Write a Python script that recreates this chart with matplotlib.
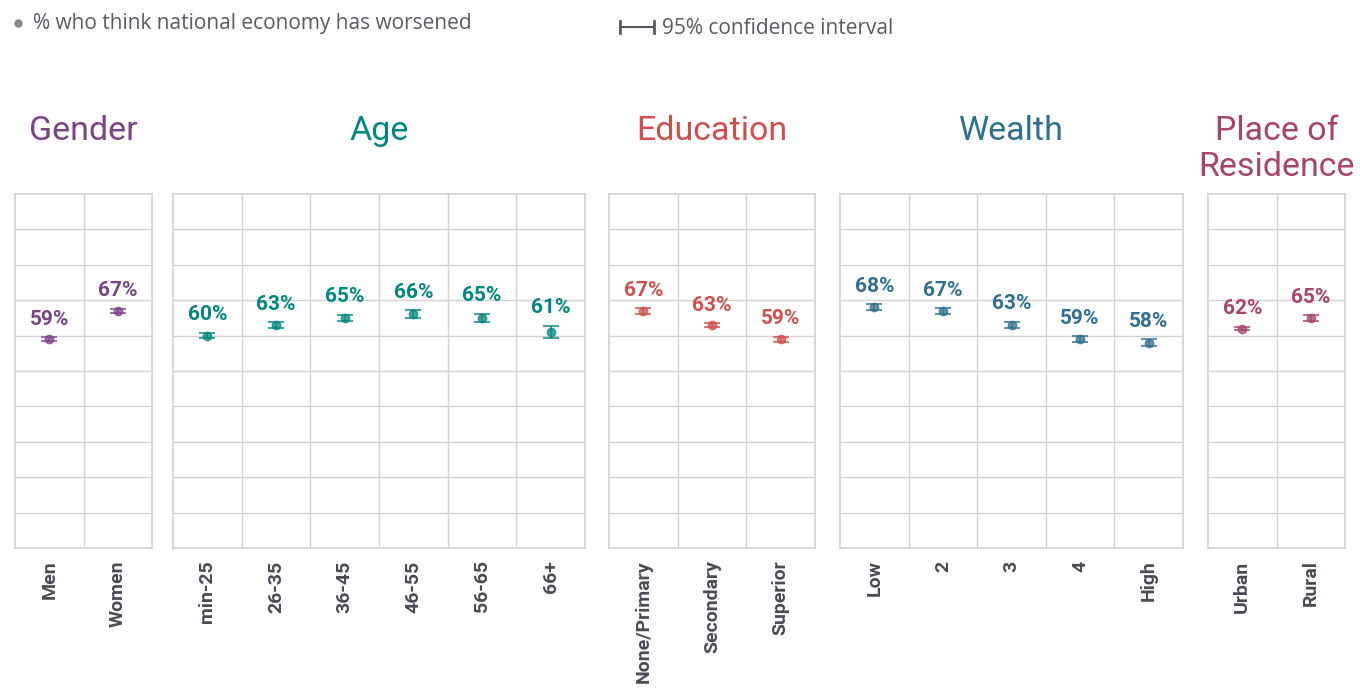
import matplotlib
matplotlib.use("Agg")
import matplotlib.pyplot as plt
from matplotlib.lines import Line2D

# % who think the national economy has worsened, with 95% CI half-widths
gender_labels = ["Men", "Women"]
gender_vals = [59, 67]
gender_ci = [0.6, 0.6]

age_labels = ["min-25", "26-35", "36-45", "46-55", "56-65", "66+"]
age_vals = [60, 63, 65, 66, 65, 61]
age_ci = [0.8, 0.8, 0.9, 1.1, 1.2, 1.8]

edu_labels = ["None/Primary", "Secondary", "Superior"]
edu_vals = [67, 63, 59]
edu_ci = [0.8, 0.5, 0.7]

wealth_labels = ["Low", "2", "3", "4", "High"]
wealth_vals = [68, 67, 63, 59, 58]
wealth_ci = [0.8, 0.8, 0.9, 0.9, 1.0]

res_labels = ["Urban", "Rural"]
res_vals = [62, 65]
res_ci = [0.5, 0.8]

groups = [
    ("Gender", gender_labels, gender_vals, gender_ci, "#7a4488"),
    ("Age", age_labels, age_vals, age_ci, "#00877f"),
    ("Education", edu_labels, edu_vals, edu_ci, "#cf4f4b"),
    ("Wealth", wealth_labels, wealth_vals, wealth_ci, "#2f6f8f"),
    ("Place of\nResidence", res_labels, res_vals, res_ci, "#a8426f"),
]

W, H = 1360, 693
panel_x = [(15, 152), (173, 585), (609, 815), (840, 1183), (1208, 1345)]
top_px, bot_px = 194, 548
grid_col = "#d2d2d2"
tick_col = "#4a4a55"

fig = plt.figure(figsize=(W / 100, H / 100), dpi=100)

for (title, labels, vals, ci, col), (x0, x1) in zip(groups, panel_x):
    ax = fig.add_axes([x0 / W, 1 - bot_px / H, (x1 - x0) / W, (bot_px - top_px) / H])
    n = len(labels)
    x = list(range(n))
    ax.set_xlim(-0.5, n - 0.5)
    ax.set_ylim(0, 100)
    for yv in range(10, 100, 10):
        ax.axhline(yv, color=grid_col, lw=1, zorder=0)
    for xv in range(1, n):
        ax.axvline(xv - 0.5, color=grid_col, lw=1, zorder=0)
    for s in ax.spines.values():
        s.set_color(grid_col)
        s.set_linewidth(1.2)
    ax.errorbar(x, vals, yerr=ci, fmt="o", color=col, ms=6, mfc=col, mec=col,
                alpha=0.75, capsize=6, capthick=1.5, elinewidth=1.2, zorder=3)
    for xi, v, c in zip(x, vals, ci):
        ax.annotate(f"{v}%", (xi, v + c), xytext=(0, 6), textcoords="offset points",
                    ha="center", va="bottom", fontsize=15, fontweight="bold",
                    color=col, family="Roboto")
    ax.set_yticks([])
    ax.set_xticks(x)
    ax.set_xticklabels(labels, rotation=90, fontsize=14, fontweight="bold",
                       color=tick_col, family="Roboto")
    ax.tick_params(axis="x", length=0, pad=9)
    fig.text((x0 + x1) / 2 / W, 1 - 115 / H, title, ha="center", va="top",
             fontsize=24.5, color=col, family="Roboto", linespacing=1.15)

# legend row
fig.add_artist(Line2D([18 / W], [1 - 23 / H], marker="o", ms=5, color="#8a8a8a", lw=0))
fig.text(33 / W, 1 - 24 / H, "% who think national economy has worsened", ha="left",
         va="center", fontsize=15, color="#5a5a62", family="Open Sans")
yl = 1 - 27 / H
fig.add_artist(Line2D([620 / W, 654 / W], [yl, yl], color="#5a5a62", lw=1.5))
for xe in (620, 654):
    fig.add_artist(Line2D([xe / W, xe / W], [yl - 6 / H, yl + 6 / H], color="#5a5a62", lw=2))
fig.text(662 / W, 1 - 28 / H, "95% confidence interval", ha="left", va="center",
         fontsize=15, color="#5a5a62", family="Open Sans")

fig.savefig("out.png", dpi=100)
